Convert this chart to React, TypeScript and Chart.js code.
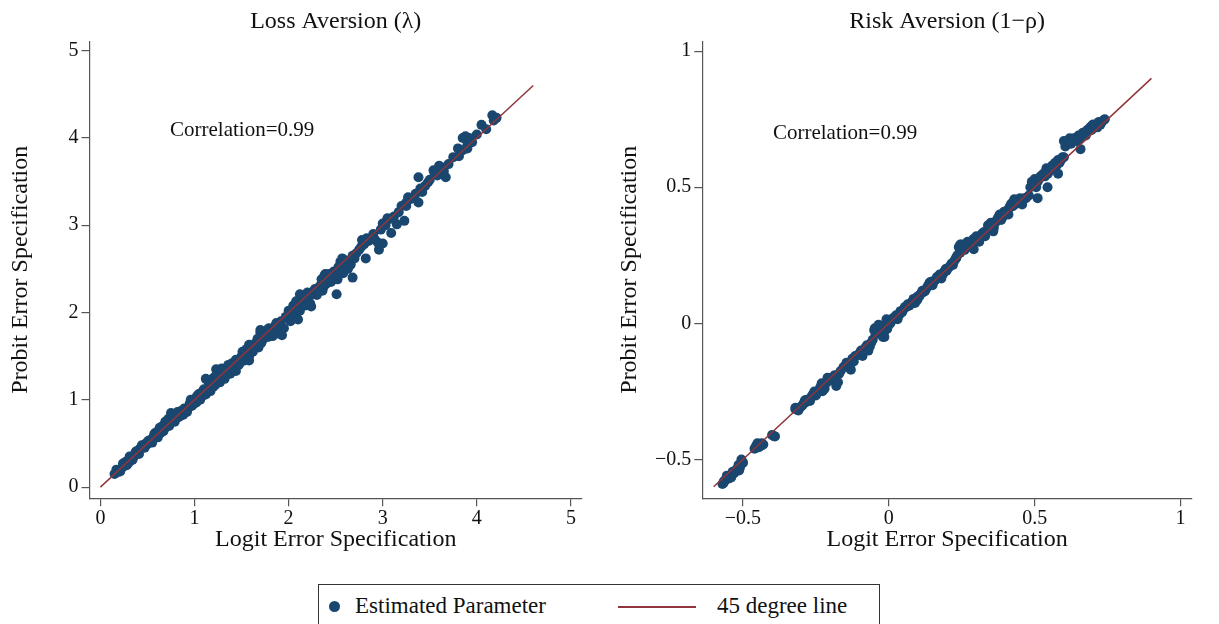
import React, { useEffect, useRef } from "react";
import { Chart, registerables } from "chart.js";

Chart.register(...registerables);

const FONT = "'Liberation Serif', 'Times New Roman', serif";
const NAVY = "#1a476f";
const MAROON = "#90353b";
const AXIS = "#555555";
const TEXT = "#111111";

// ---------- data ----------
const panelTitles = ["Loss Aversion (\u03bb)", "Risk Aversion (1\u2212\u03c1)"];
const xAxisTitle = "Logit Error Specification";
const yAxisTitle = "Probit Error Specification";
const correlationText = "Correlation=0.99";
const legendLabels = ["Estimated Parameter", "45 degree line"];

const lossTicks = [0, 1, 2, 3, 4, 5];
const riskTicks = [-0.5, 0, 0.5, 1];

const lossLine: [number, number][] = [[0, 0], [4.6, 4.6]];
const riskLine: [number, number][] = [[-0.6, -0.6], [0.9, 0.9]];

const lossCorrelationAt: [number, number] = [0.74, 4.08];
const riskCorrelationAt: [number, number] = [-0.397, 0.696];

const lossPoints: [number, number][] = [
  [0.15, 0.15], [0.18, 0.17], [0.2, 0.2], [0.22, 0.21], [0.25, 0.24], [0.27, 0.29], [0.3, 0.28],
  [0.32, 0.33], [0.35, 0.34], [0.37, 0.39], [0.4, 0.4], [0.42, 0.44], [0.45, 0.46], [0.48, 0.5],
  [0.5, 0.49], [0.53, 0.54], [0.56, 0.55], [0.58, 0.62], [0.6, 0.58], [0.62, 0.65], [0.64, 0.62],
  [0.66, 0.7], [0.68, 0.67], [0.7, 0.72], [0.72, 0.78], [0.74, 0.73], [0.76, 0.81], [0.78, 0.77],
  [0.8, 0.84], [0.83, 0.8], [0.85, 0.87], [0.88, 0.83], [0.9, 0.88], [0.92, 0.86], [0.95, 0.96],
  [0.97, 0.93], [1.0, 1.01], [1.02, 0.97], [1.05, 1.07], [1.08, 1.04], [1.1, 1.12], [1.12, 1.06],
  [1.15, 1.2], [1.17, 1.1], [1.2, 1.25], [1.22, 1.17], [1.25, 1.33], [1.27, 1.2], [1.3, 1.3],
  [1.32, 1.24], [1.35, 1.36], [1.38, 1.3], [1.4, 1.42], [1.43, 1.34], [1.45, 1.45], [1.48, 1.42],
  [1.5, 1.5], [1.53, 1.45], [1.55, 1.58], [1.58, 1.5], [1.6, 1.62], [1.62, 1.55], [1.65, 1.65],
  [1.68, 1.6], [1.7, 1.77], [1.72, 1.68], [1.75, 1.78], [1.78, 1.72], [1.8, 1.8], [1.83, 1.73],
  [1.86, 1.85], [1.88, 1.76], [1.92, 1.9], [1.95, 1.82], [2.0, 2.02], [2.02, 1.9], [2.05, 2.08],
  [2.08, 1.96], [2.1, 2.12], [2.12, 2.02], [2.15, 2.15], [2.18, 2.08], [2.2, 2.22], [2.23, 2.1],
  [2.26, 2.24], [2.3, 2.2], [2.33, 2.3], [2.36, 2.25], [2.38, 2.42], [2.4, 2.33], [2.43, 2.44],
  [2.45, 2.35], [2.48, 2.47], [2.52, 2.38], [2.55, 2.58], [2.58, 2.45], [2.6, 2.6], [2.63, 2.5],
  [2.66, 2.55], [2.7, 2.62], [2.75, 2.72], [2.8, 2.78], [2.85, 2.82], [2.9, 2.9], [2.95, 2.8],
  [3.0, 3.02], [3.05, 3.08], [3.1, 3.08], [3.2, 3.22], [3.3, 3.3], [3.4, 3.42], [3.45, 3.45],
  [3.55, 3.6], [3.6, 3.68], [3.65, 3.62], [3.7, 3.7], [3.85, 3.86], [3.9, 3.92],
  [4.165, 4.26], [4.21, 4.23], [4.05, 4.15], [4.0, 4.04], [3.85, 4.0], [3.92, 4.0], [3.88, 4.02],
  [3.8, 3.88], [3.9, 3.88], [3.81, 3.79], [3.67, 3.55], [3.6, 3.67], [3.54, 3.63], [3.48, 3.49],
  [3.38, 3.55], [3.38, 3.26], [3.27, 3.32], [3.25, 3.22], [3.23, 3.05], [3.15, 3.01], [3.07, 3.07],
  [3.09, 2.91], [3.0, 2.79], [2.96, 2.72], [2.9, 2.87], [2.82, 2.62], [2.78, 2.83], [2.68, 2.4],
  [2.65, 2.54], [2.57, 2.62], [2.51, 2.21], [2.49, 2.42], [2.39, 2.44], [2.37, 2.29], [2.24, 2.07],
  [2.2, 2.23], [2.12, 2.21], [2.1, 1.92], [2.08, 2.13], [1.93, 1.74], [1.87, 1.88], [1.79, 1.82],
  [1.7, 1.8], [1.72, 1.7], [1.66, 1.61], [1.58, 1.63], [1.54, 1.51], [1.58, 1.45], [1.44, 1.33],
  [1.23, 1.35], [1.19, 1.2], [1.12, 1.24], [1.12, 1.08], [0.92, 0.89], [0.75, 0.85],
  [0.17, 0.2], [0.21, 0.18], [0.24, 0.27], [0.28, 0.25], [0.31, 0.35], [0.34, 0.31], [0.38, 0.41],
  [0.41, 0.38], [0.44, 0.48], [0.47, 0.45], [0.51, 0.53], [0.55, 0.51], [0.57, 0.6], [0.61, 0.57],
  [0.63, 0.68], [0.67, 0.64], [0.69, 0.75], [0.73, 0.7], [0.75, 0.8], [0.79, 0.75], [0.82, 0.86],
  [0.86, 0.82], [0.89, 0.9], [0.93, 0.9], [0.96, 1.0], [0.99, 0.95], [1.03, 1.05], [1.06, 1.0],
  [1.09, 1.1], [1.13, 1.1], [1.16, 1.22], [1.2, 1.15], [1.23, 1.28], [1.26, 1.24], [1.29, 1.36],
  [1.33, 1.28], [1.36, 1.4], [1.41, 1.36], [1.44, 1.46], [1.47, 1.4], [1.51, 1.55], [1.56, 1.5],
  [1.59, 1.6], [1.63, 1.6], [1.67, 1.7], [1.71, 1.65], [1.74, 1.73], [1.77, 1.8], [1.82, 1.78],
  [1.85, 1.8], [1.9, 1.85], [1.97, 1.95], [2.03, 2.0], [2.07, 2.04], [2.14, 2.1], [2.17, 2.18],
  [2.22, 2.18], [2.28, 2.27], [2.32, 2.25], [2.35, 2.38], [2.42, 2.38], [2.47, 2.42], [2.53, 2.52],
  [2.58, 2.55], [2.62, 2.56], [2.68, 2.65], [2.72, 2.68], [2.77, 2.75], [2.83, 2.85], [2.87, 2.84],
  [2.92, 2.83], [2.98, 2.95], [3.03, 3.0], [3.12, 3.1], [3.17, 3.15], [3.25, 3.26], [3.35, 3.36],
  [3.42, 3.38], [3.5, 3.52], [3.58, 3.57], [3.63, 3.66], [3.75, 3.78], [3.82, 3.84], [3.95, 3.95],
  [4.1, 4.1], [4.18, 4.2],
];

const riskPoints: [number, number][] = [
  [-0.57, -0.59], [-0.56, -0.575], [-0.55, -0.57], [-0.54, -0.555], [-0.53, -0.55], [-0.52, -0.535],
  [-0.51, -0.53], [-0.5, -0.51], [-0.46, -0.46], [-0.45, -0.44], [-0.44, -0.45], [-0.43, -0.445],
  [-0.4, -0.41], [-0.39, -0.415], [-0.32, -0.31], [-0.31, -0.32], [-0.3, -0.305], [-0.29, -0.29],
  [-0.28, -0.28], [-0.27, -0.285], [-0.26, -0.26], [-0.25, -0.265], [-0.24, -0.25], [-0.23, -0.22],
  [-0.22, -0.24], [-0.21, -0.2], [-0.2, -0.21], [-0.18, -0.23], [-0.17, -0.185], [-0.15, -0.16],
  [-0.14, -0.15], [-0.13, -0.17], [-0.12, -0.14], [-0.1, -0.11], [-0.09, -0.12], [-0.08, -0.09],
  [-0.07, -0.1], [-0.06, -0.07], [-0.05, -0.025], [-0.04, -0.02], [-0.03, -0.01], [-0.02, -0.05],
  [-0.015, -0.03], [-0.01, 0.0], [0.0, -0.005], [0.01, 0.01], [0.02, 0.02], [0.03, 0.015],
  [0.04, 0.045], [0.05, 0.05], [0.06, 0.06], [0.07, 0.065], [0.08, 0.08], [0.09, 0.075],
  [0.1, 0.1], [0.11, 0.11], [0.12, 0.115], [0.13, 0.13], [0.14, 0.15], [0.15, 0.14], [0.16, 0.16],
  [0.17, 0.17], [0.18, 0.165], [0.19, 0.19], [0.2, 0.2], [0.21, 0.21], [0.22, 0.215], [0.23, 0.24],
  [0.24, 0.28], [0.25, 0.29], [0.26, 0.27], [0.27, 0.3], [0.28, 0.29], [0.29, 0.31], [0.3, 0.32],
  [0.31, 0.3], [0.32, 0.33], [0.33, 0.32], [0.34, 0.36], [0.35, 0.37], [0.36, 0.35], [0.37, 0.38],
  [0.38, 0.4], [0.39, 0.39], [0.4, 0.41], [0.41, 0.42], [0.42, 0.44], [0.43, 0.45], [0.44, 0.44],
  [0.45, 0.46], [0.47, 0.46], [0.48, 0.47], [0.49, 0.52], [0.5, 0.53], [0.51, 0.52], [0.52, 0.54],
  [0.53, 0.55], [0.54, 0.55], [0.55, 0.56], [0.56, 0.58], [0.57, 0.57], [0.58, 0.6], [0.59, 0.6],
  [0.6, 0.67], [0.61, 0.66], [0.62, 0.68], [0.63, 0.67], [0.64, 0.68], [0.65, 0.69], [0.66, 0.69],
  [0.67, 0.7], [0.68, 0.71], [0.69, 0.72], [0.7, 0.73], [0.71, 0.73], [0.72, 0.74], [0.73, 0.74],
  [0.74, 0.75], [0.737, 0.747], [0.697, 0.727], [0.657, 0.64], [0.6, 0.61], [0.57, 0.59],
  [0.58, 0.55], [0.54, 0.57], [0.544, 0.5], [0.51, 0.46], [0.457, 0.437], [0.43, 0.456],
  [0.41, 0.4], [0.358, 0.338], [0.291, 0.272], [0.245, 0.29], [0.231, 0.239], [0.198, 0.193],
  [0.145, 0.153], [0.098, 0.087], [-0.008, 0.015], [-0.035, -0.005], [-0.015, -0.05],
  [-0.048, -0.018], [-0.134, -0.157], [-0.174, -0.216], [-0.207, -0.203], [-0.227, -0.249],
  [-0.287, -0.282], [-0.32, -0.315], [-0.394, -0.414], [-0.434, -0.447], [-0.5, -0.513],
  [-0.513, -0.54], [-0.54, -0.566], [-0.566, -0.586],
  [-0.565, -0.58], [-0.555, -0.56], [-0.545, -0.56], [-0.535, -0.545], [-0.525, -0.54],
  [-0.515, -0.52], [-0.505, -0.5], [-0.455, -0.45], [-0.445, -0.455], [-0.435, -0.44],
  [-0.315, -0.315], [-0.305, -0.31], [-0.295, -0.3], [-0.285, -0.29], [-0.275, -0.28],
  [-0.265, -0.27], [-0.255, -0.25], [-0.245, -0.255], [-0.235, -0.235], [-0.225, -0.23],
  [-0.215, -0.22], [-0.195, -0.2], [-0.185, -0.19], [-0.165, -0.175], [-0.155, -0.16],
  [-0.145, -0.145], [-0.125, -0.13], [-0.115, -0.12], [-0.105, -0.115], [-0.095, -0.1],
  [-0.085, -0.1], [-0.075, -0.08], [-0.065, -0.085], [-0.055, -0.06], [-0.045, -0.04],
  [-0.025, -0.04], [-0.005, -0.02], [0.005, 0.0], [0.015, 0.02], [0.025, 0.03], [0.035, 0.03],
  [0.045, 0.04], [0.055, 0.06], [0.065, 0.07], [0.075, 0.07], [0.085, 0.09], [0.095, 0.095],
  [0.105, 0.1], [0.115, 0.12], [0.125, 0.12], [0.135, 0.14], [0.155, 0.155], [0.165, 0.17],
  [0.175, 0.18], [0.185, 0.18], [0.195, 0.2], [0.205, 0.205], [0.215, 0.22], [0.225, 0.23],
  [0.235, 0.25], [0.245, 0.26], [0.255, 0.275], [0.265, 0.28], [0.275, 0.285], [0.285, 0.3],
  [0.295, 0.3], [0.305, 0.31], [0.315, 0.32], [0.325, 0.335], [0.335, 0.34], [0.345, 0.35],
  [0.355, 0.36], [0.365, 0.37], [0.375, 0.39], [0.385, 0.38], [0.395, 0.41], [0.405, 0.405],
  [0.415, 0.43], [0.425, 0.43], [0.435, 0.44], [0.445, 0.45], [0.455, 0.45], [0.465, 0.46],
  [0.485, 0.5], [0.495, 0.51], [0.505, 0.5], [0.515, 0.53], [0.525, 0.54], [0.535, 0.54],
  [0.545, 0.55], [0.555, 0.57], [0.565, 0.575], [0.575, 0.58], [0.585, 0.59], [0.595, 0.61],
  [0.605, 0.65], [0.615, 0.67], [0.625, 0.66], [0.635, 0.68], [0.645, 0.67], [0.655, 0.68],
  [0.665, 0.7], [0.675, 0.69], [0.685, 0.71], [0.695, 0.71], [0.705, 0.72], [0.715, 0.72],
  [0.725, 0.73],
];

// ---------- layout ----------
const CANVAS_H = 570;

type PanelCfg = {
  title: string;
  points: [number, number][];
  line: [number, number][];
  ticks: number[];
  xMin: number; xMax: number; yMin: number; yMax: number;
  corrAt: [number, number];
  left: number; width: number; yAxisW: number; padRight: number; yTitlePad: number;
};

const panels: PanelCfg[] = [
  {
    title: panelTitles[0], points: lossPoints, line: lossLine, ticks: lossTicks,
    xMin: -0.116, xMax: 5.118, yMin: -0.127, yMax: 5.107, corrAt: lossCorrelationAt,
    left: 0, width: 610, yAxisW: 89.5, padRight: 28, yTitlePad: 6.6,
  },
  {
    title: panelTitles[1], points: riskPoints, line: riskLine, ticks: riskTicks,
    xMin: -0.639, xMax: 1.039, yMin: -0.642, yMax: 1.036, corrAt: riskCorrelationAt,
    left: 610, width: 609, yAxisW: 92.3, padRight: 27, yTitlePad: 5,
  },
];

const fmt = (v: number) => String(v).replace("-", "\u2212");

function Panel({ cfg }: { cfg: PanelCfg }) {
  const ref = useRef<HTMLCanvasElement | null>(null);
  useEffect(() => {
    if (!ref.current) return;
    const extra = {
      id: "extraText",
      afterDraw(chart: any) {
        const { ctx, chartArea } = chart;
        ctx.save();
        ctx.fillStyle = TEXT;
        ctx.font = `24px ${FONT}`;
        ctx.textAlign = "center";
        ctx.textBaseline = "middle";
        ctx.fillText(cfg.title, (chartArea.left + chartArea.right) / 2, 22);
        ctx.font = `21px ${FONT}`;
        ctx.textAlign = "left";
        ctx.fillText(
          correlationText,
          chart.scales.x.getPixelForValue(cfg.corrAt[0]),
          chart.scales.y.getPixelForValue(cfg.corrAt[1])
        );
        ctx.restore();
      },
    };
    const axisCommon = {
      type: "linear" as const,
      border: { color: AXIS, width: 1.2 },
      grid: { drawOnChartArea: false, drawTicks: true, tickLength: 8, color: AXIS, lineWidth: 1.2 },
    };
    const chart = new Chart(ref.current, {
      type: "scatter",
      data: {
        datasets: [
          {
            label: legendLabels[1],
            data: cfg.line.map(([x, y]) => ({ x, y })),
            showLine: true,
            borderColor: MAROON,
            borderWidth: 1.5,
            pointRadius: 0,
            order: 0,
          },
          {
            label: legendLabels[0],
            data: cfg.points.map(([x, y]) => ({ x, y })),
            backgroundColor: NAVY,
            borderColor: NAVY,
            borderWidth: 0,
            pointRadius: 5,
            order: 1,
          },
        ],
      },
      options: {
        animation: false,
        responsive: false,
        maintainAspectRatio: false,
        layout: { padding: { left: 0, top: 41.3, right: cfg.padRight, bottom: 0 } },
        plugins: { legend: { display: false }, tooltip: { enabled: false }, title: { display: false } },
        scales: {
          x: {
            ...axisCommon,
            min: cfg.xMin,
            max: cfg.xMax,
            afterBuildTicks: (s: any) => { s.ticks = cfg.ticks.map((value) => ({ value })); },
            afterFit: (s: any) => { s.height = CANVAS_H - 498.2; },
            ticks: { font: { family: FONT, size: 20 }, color: TEXT, padding: 1, maxRotation: 0, callback: (v: any) => fmt(v) },
            title: { display: true, text: xAxisTitle, color: TEXT, font: { family: FONT, size: 24 }, padding: { top: 0, bottom: 15.6 } },
          },
          y: {
            ...axisCommon,
            min: cfg.yMin,
            max: cfg.yMax,
            afterBuildTicks: (s: any) => { s.ticks = cfg.ticks.map((value) => ({ value })); },
            afterFit: (s: any) => { s.width = cfg.yAxisW; },
            ticks: { font: { family: FONT, size: 20 }, color: TEXT, padding: 3, callback: (v: any) => fmt(v) },
            title: { display: true, text: yAxisTitle, color: TEXT, font: { family: FONT, size: 24 }, padding: { top: cfg.yTitlePad, bottom: 0 } },
          },
        },
      },
      plugins: [extra],
    } as any);
    return () => chart.destroy();
  }, [cfg]);
  return (
    <canvas
      ref={ref}
      width={cfg.width}
      height={CANVAS_H}
      style={{ position: "absolute", left: cfg.left, top: 0, width: cfg.width, height: CANVAS_H }}
    />
  );
}

function Legend() {
  const textStyle: React.CSSProperties = {
    position: "absolute",
    top: 8,
    fontFamily: FONT,
    fontSize: 23,
    lineHeight: "26px",
    color: TEXT,
    whiteSpace: "nowrap",
  };
  return (
    <div
      style={{
        position: "absolute",
        left: 318,
        top: 584,
        width: 562,
        height: 60,
        border: "1.5px solid #333",
        boxSizing: "border-box",
        background: "#fff",
      }}
    >
      <div style={{ position: "absolute", left: 10, top: 16, width: 11, height: 11, borderRadius: "50%", background: NAVY }} />
      <div style={{ ...textStyle, left: 36 }}>{legendLabels[0]}</div>
      <div style={{ position: "absolute", left: 299, top: 20.5, width: 78, height: 2, background: MAROON }} />
      <div style={{ ...textStyle, left: 398 }}>{legendLabels[1]}</div>
    </div>
  );
}

export default function App() {
  return (
    <div style={{ position: "absolute", left: 0, top: 0, width: 1219, height: 624, background: "#fff", overflow: "hidden" }}>
      {panels.map((p) => (
        <Panel key={p.title} cfg={p} />
      ))}
      <Legend />
    </div>
  );
}
